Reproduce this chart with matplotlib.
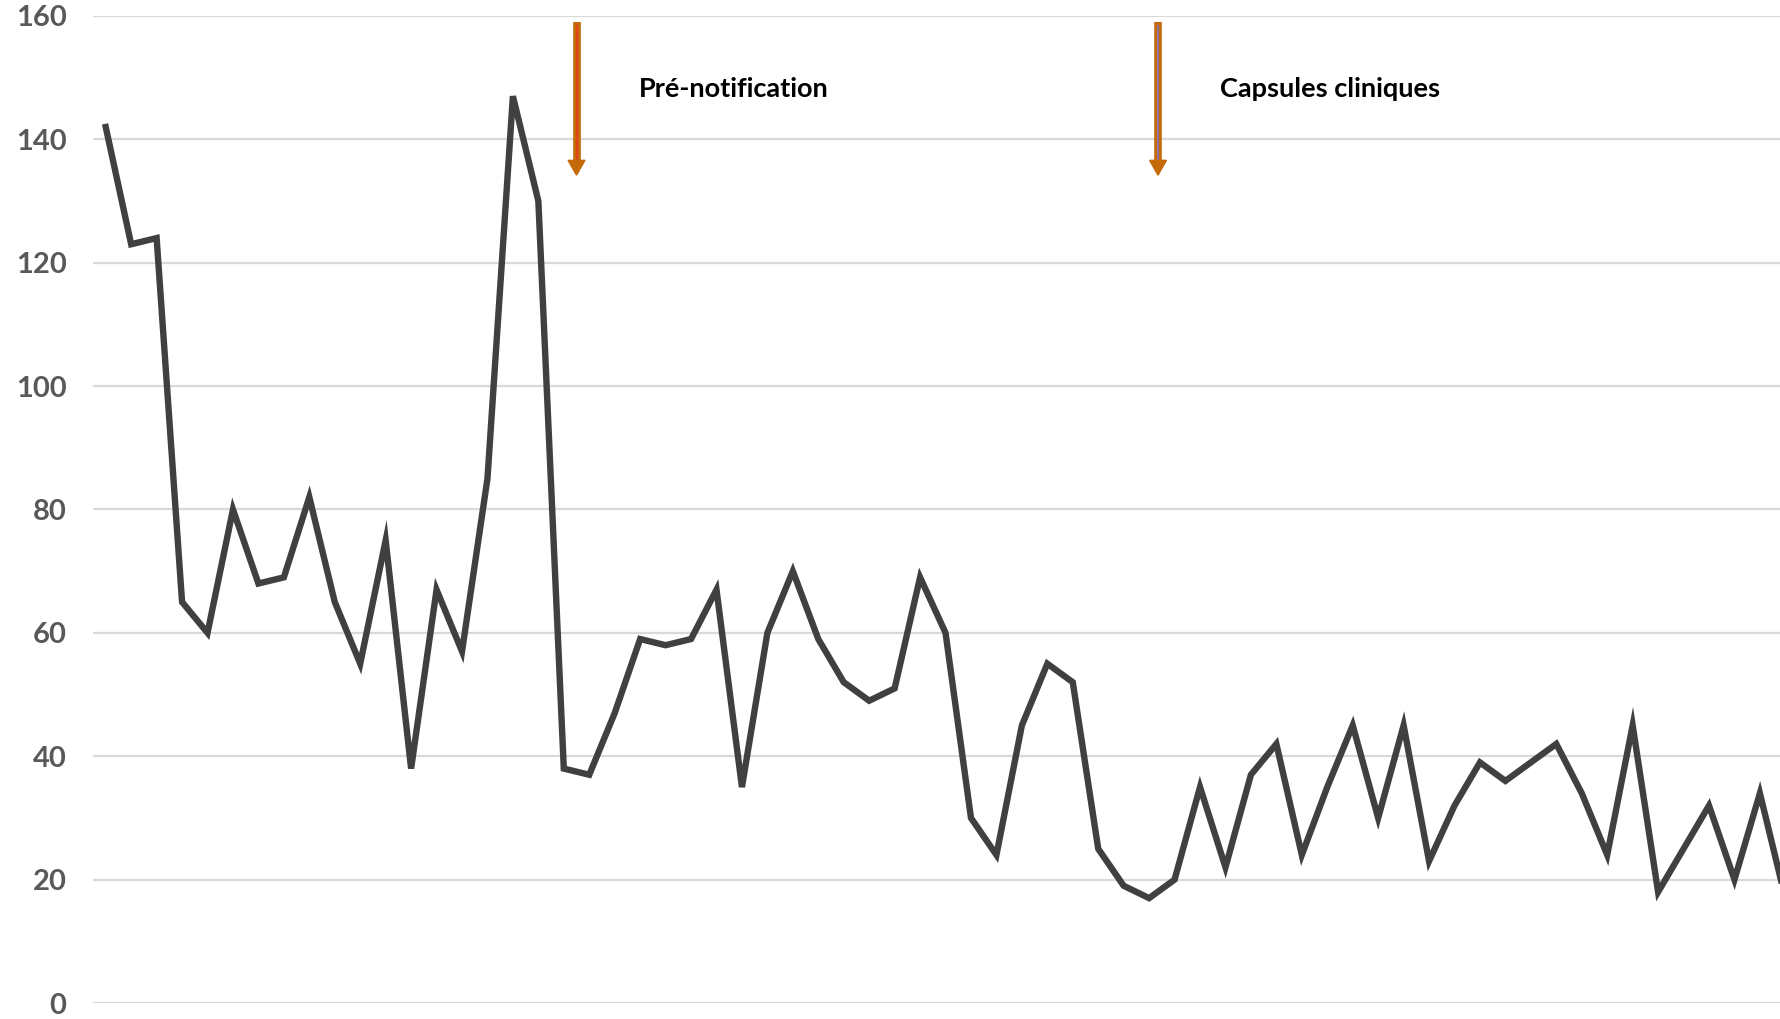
import matplotlib.pyplot as plt
import numpy as np
from matplotlib.patches import Polygon

# ----------------------- Data ---------------------------
values = [142, 123, 124, 65, 60, 80, 68, 69, 82, 65,
          55, 75, 38, 67, 57, 85, 147, 130, 38, 37,
          47, 59, 58, 59, 67, 35, 60, 70, 59, 52,
          49, 51, 69, 60, 30, 24, 45, 55, 52, 25,
          19, 17, 20, 35, 22, 37, 42, 24, 35, 45,
          30, 45, 23, 32, 39, 36, 39, 42, 34, 24,
          45, 18, 25, 32, 20, 34, 17]
periods = np.arange(len(values))
y_ticks = [0, 20, 40, 60, 80, 100, 120, 140, 160]

events = ["Pré-notification", "Capsules cliniques"]
event_pos = [18.5, 41.35]
event_inner = ["#E8401C", "#8A74A8"]

# ----------------------- Plotting ---------------------------
fig = plt.figure(figsize=(17.8, 10.19), dpi=100)
ax = fig.add_axes([93 / 1780, 16 / 1019, 1 - 93 / 1780, (1003 - 16) / 1019])

ax.plot(periods, values, color="#404040", linewidth=4.6,
        solid_joinstyle="miter", zorder=3, clip_on=True)

ax.set_xlim(-0.5, 65.79)
ax.set_ylim(0, 160)
ax.set_yticks(y_ticks)
ax.set_yticklabels([str(t) for t in y_ticks], fontsize=21,
                   fontweight="bold", color="#595959", family="Lato")
ax.set_xticks([])
ax.tick_params(axis="y", length=0, pad=19)
ax.grid(axis="y", color="#D9D9D9", linewidth=1.6, zorder=0)
for s in ax.spines.values():
    s.set_visible(False)

# Event arrows and labels
for label, xpos, inner in zip(events, event_pos, event_inner):
    ax.plot([xpos, xpos], [159.0, 136.0], color="#C46A0A", linewidth=5.5,
            solid_capstyle="butt", zorder=4)
    ax.plot([xpos, xpos], [158.6, 136.0], color=inner, linewidth=1.3,
            solid_capstyle="butt", zorder=5)
    head = Polygon([[xpos - 0.33, 136.6], [xpos + 0.33, 136.6], [xpos, 134.2]],
                   closed=True, color="#C46A0A", zorder=5)
    ax.add_patch(head)
    ax.text(xpos + 2.45, 148.2, label, fontsize=19.5, fontweight="bold",
            family="Lato", color="black", va="center", ha="left", zorder=6)

plt.savefig("out.png", dpi=100)
